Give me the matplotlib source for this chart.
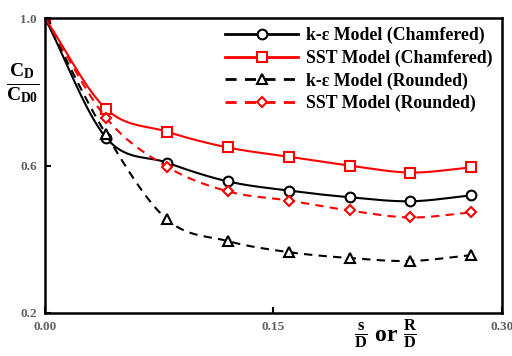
import matplotlib
matplotlib.use("Agg")
import matplotlib.pyplot as plt
import numpy as np

plt.rcParams["font.family"] = "Liberation Serif"
plt.rcParams["font.weight"] = "bold"
plt.rcParams["mathtext.fontset"] = "custom"
plt.rcParams["mathtext.rm"] = "Liberation Serif:bold"
plt.rcParams["mathtext.it"] = "Liberation Serif:bold"
plt.rcParams["mathtext.bf"] = "Liberation Serif:bold"

# s/D or R/D
x_vals = [0.0, 0.04, 0.08, 0.12, 0.16, 0.20, 0.24, 0.28]
ke_chamfered = [1.0, 0.676, 0.608, 0.557, 0.532, 0.514, 0.503, 0.519]
sst_chamfered = [1.0, 0.754, 0.692, 0.649, 0.624, 0.600, 0.581, 0.595]
ke_rounded = [1.0, 0.685, 0.454, 0.395, 0.365, 0.349, 0.341, 0.357]
sst_rounded = [1.0, 0.730, 0.597, 0.530, 0.505, 0.478, 0.459, 0.473]

x_ticks = [0.0, 0.15, 0.30]
x_tick_labels = ["0.00", "0.15", "0.30"]
y_ticks = [0.2, 0.6, 1.0]
y_tick_labels = ["0.2", "0.6", "1.0"]


def smooth(xs, ys, n=30):
    """Catmull-Rom smoothing like the Excel smoothed line"""
    xs = np.asarray(xs, float)
    ys = np.asarray(ys, float)
    px = np.concatenate([[2 * xs[0] - xs[1]], xs, [2 * xs[-1] - xs[-2]]])
    py = np.concatenate([[2 * ys[0] - ys[1]], ys, [2 * ys[-1] - ys[-2]]])
    out_x, out_y = [], []
    t = np.linspace(0, 1, n)
    for i in range(1, len(px) - 2):
        for p, out in ((px, out_x), (py, out_y)):
            p0, p1, p2, p3 = p[i - 1], p[i], p[i + 1], p[i + 2]
            out.extend(0.5 * ((2 * p1) + (-p0 + p2) * t
                              + (2 * p0 - 5 * p1 + 4 * p2 - p3) * t ** 2
                              + (-p0 + 3 * p1 - 3 * p2 + p3) * t ** 3))
    return out_x, out_y


fig = plt.figure(figsize=(5.12, 3.56), dpi=100)
ax = fig.add_axes([0.088, 0.121, 0.892, 0.828])

series = [
    (ke_chamfered, "black", "-", "o", "k-ε Model (Chamfered)"),
    (sst_chamfered, "red", "-", "s", "SST Model (Chamfered)"),
    (ke_rounded, "black", (0, (4, 3)), "^", "k-ε Model (Rounded)"),
    (sst_rounded, "red", (0, (4, 3)), "D", "SST Model (Rounded)"),
]
for ys, col, ls, mk, lab in series:
    sx, sy = smooth(x_vals, ys)
    ax.plot(sx, sy, color=col, ls=ls, lw=1.5)
    ms = 5.5 if mk == "D" else 7
    ax.plot(x_vals, ys, ls="none", marker=mk, ms=ms, mfc="white", mec=col, mew=1.5)
    ax.plot([], [], color=col, ls=ls, lw=2, marker=mk, ms=ms, mfc="white",
            mec=col, mew=1.5, label=lab)

ax.set_xlim(0, 0.30)
ax.set_ylim(0.2, 1.0)
ax.set_xticks(x_ticks)
ax.set_xticklabels(x_tick_labels)
ax.set_yticks(y_ticks)
ax.set_yticklabels(y_tick_labels)
ax.tick_params(direction="in", length=4, width=1.5, labelsize=9.5,
               labelcolor="#606060", pad=6)
for sp in ax.spines.values():
    sp.set_linewidth(1.8)

ax.legend(loc="upper right", bbox_to_anchor=(1.0, 1.0), frameon=False,
          fontsize=12.8, handlelength=4.1, handletextpad=0.45, labelspacing=0.3,
          borderaxespad=0.1)

fig.text(0.045, 0.765, r"$\frac{C_D}{C_{D0}}$", fontsize=20, ha="center", va="center")
fig.text(0.752, 0.062, r"$\frac{s}{D}$ or $\frac{R}{D}$", fontsize=17, ha="center", va="center")

fig.savefig("out.png", dpi=100)
